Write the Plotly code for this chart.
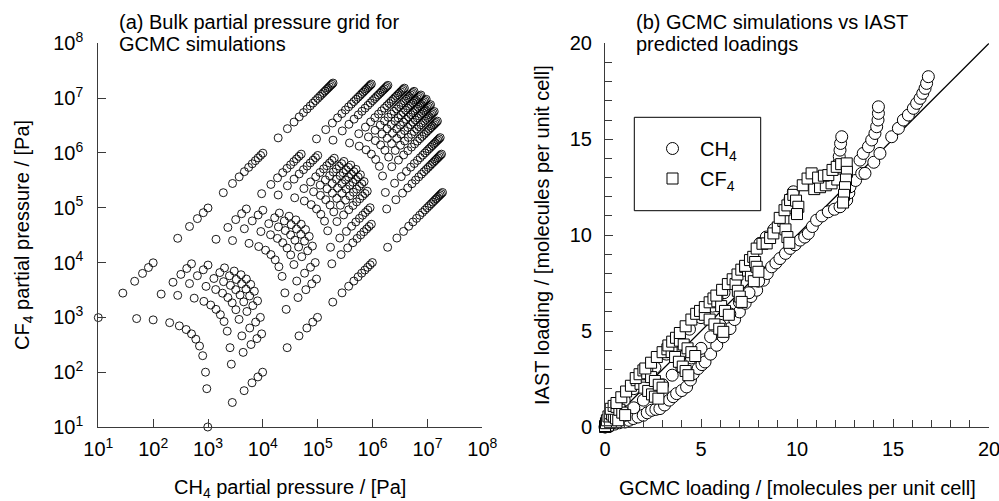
import plotly.graph_objects as go

# ---------------- Panel (a): bulk partial pressure grid ----------------
# total bulk pressures (Pa) read from the grid, and CH4 mole fractions
total_pressure_pa = [
    1.0e3,
    2.8e3, 4.6e3, 6.4e3, 8.2e3, 1.0e4,
    2.8e4, 4.6e4, 6.4e4, 8.2e4, 1.0e5,
    1.9e5, 2.8e5, 3.7e5, 4.6e5, 5.5e5, 6.4e5, 7.3e5, 8.2e5, 9.1e5, 1.0e6,
    1.9e6, 2.8e6, 3.7e6, 4.6e6, 5.5e6, 6.4e6, 7.3e6, 8.2e6, 9.1e6, 1.0e7,
    1.09e7, 1.18e7, 1.27e7, 1.36e7, 1.45e7, 1.54e7, 1.63e7, 1.72e7, 1.81e7, 1.9e7,
]
ch4_mole_fraction = [0.01, 0.05, 0.1, 0.2, 0.3, 0.4, 0.5, 0.6, 0.7, 0.8, 0.9, 0.95, 0.99]

# grid table: partial pressures of each (total pressure, composition) pair
grid_ch4 = [p * f for p in total_pressure_pa for f in ch4_mole_fraction]
grid_cf4 = [p * (1 - f) for p in total_pressure_pa for f in ch4_mole_fraction]

# ---------------- Panel (b): GCMC vs IAST loadings ----------------
ch4_gcmc = [
    # near origin
    0.00, 0.02, 0.04, 0.06, 0.08, 0.10, 0.13, 0.16, 0.20, 0.25, 0.30, 0.36, 0.10, 0.20, 0.30,
    # lower edge chain
    0.50, 0.75, 1.04, 1.25, 1.47, 1.72, 1.99, 2.20, 2.43, 2.65, 2.86, 3.10, 3.35, 3.55,
    3.73, 4.00, 4.25, 4.45, 4.60, 4.85, 5.05, 5.21, 5.50, 5.82, 6.15, 6.51, 6.75, 7.00,
    7.30, 7.60, 7.90, 8.25, 8.45, 8.68, 8.90, 9.11, 9.40, 9.64, 9.90, 10.16, 10.40,
    10.59, 10.80, 11.02, 11.30, 11.63, 11.95, 12.24, 12.59, 12.70, 12.76, 13.05, 13.37,
    # band interior
    1.00, 1.50, 2.00, 2.50, 3.00, 3.50, 4.00, 4.50, 5.00, 5.50, 6.00, 6.50, 7.00, 7.50, 8.00,
    # upper side of band
    0.50, 1.00, 1.50, 2.00, 2.60, 3.20, 3.80, 4.40, 5.00, 5.60, 6.20, 6.80,
    7.40, 8.07, 8.40, 8.80, 9.20, 9.50, 9.64, 9.81,
    # columns above the parity line
    12.10, 12.20, 12.20, 12.24, 12.27, 12.33,
    13.28, 13.45, 13.72, 13.89, 14.06, 14.15, 14.22, 14.24, 14.24,
    13.54, 14.00, 14.32, 14.93, 15.28, 15.54, 15.80, 16.06, 16.23, 16.41,
    16.55, 16.67, 16.75, 16.84,
]
ch4_iast = [
    0.00, 0.01, 0.03, 0.04, 0.06, 0.07, 0.09, 0.11, 0.13, 0.16, 0.19, 0.22, 0.15, 0.25, 0.32,
    0.15, 0.22, 0.26, 0.35, 0.44, 0.52, 0.61, 0.74, 0.87, 0.92, 0.96, 1.15, 1.40, 1.58,
    1.74, 1.90, 2.09, 2.45, 2.78, 3.05, 3.25, 3.39, 3.80, 4.26, 4.70, 5.13, 5.60, 6.00,
    6.45, 6.80, 7.13, 7.65, 8.00, 8.35, 8.55, 8.78, 9.05, 9.31, 9.50, 9.74, 9.90,
    10.09, 10.45, 10.78, 11.00, 11.22, 11.35, 11.48, 11.83, 12.20, 12.52, 12.85, 13.22,
    0.60, 1.00, 1.40, 1.80, 2.20, 2.70, 3.10, 3.60, 4.10, 4.70, 5.30, 5.90, 6.50, 7.00, 7.60,
    0.70, 1.40, 2.00, 2.50, 3.10, 3.80, 4.50, 5.10, 5.70, 6.30, 7.00, 7.60,
    8.30, 9.57, 9.90, 10.30, 10.80, 11.40, 11.90, 12.26,
    13.40, 13.80, 14.10, 14.43, 14.78, 15.13,
    13.91, 14.26, 14.61, 14.96, 15.30, 15.65, 16.00, 16.35, 16.69,
    13.22, 13.80, 14.26, 15.13, 15.57, 16.00, 16.26, 16.61, 16.87, 17.13,
    17.39, 17.65, 17.91, 18.26,
]
cf4_gcmc = [
    # near origin
    0.00, 0.02, 0.04, 0.06, 0.08, 0.10, 0.12, 0.14, 0.16, 0.18, 0.20, 0.05, 0.10, 0.15, 0.25, 0.30,
    # staircases along the band
    0.00, 0.05, 0.10, 0.18, 0.26, 0.36, 0.46, 0.57, 0.69,
    0.30, 0.45, 0.60, 0.75, 0.90, 1.05,
    0.60, 0.85, 1.10, 1.35, 1.65, 1.85, 2.05, 2.25, 2.45, 2.60, 2.78,
    1.60, 1.80, 2.00, 2.20, 2.40, 2.60, 2.80, 3.00,
    2.10, 2.40, 2.70, 3.00, 3.25, 3.47, 3.65, 3.85, 4.05, 4.20, 4.34,
    3.30, 3.50, 3.70, 3.90, 4.10, 4.30, 4.50, 4.70,
    3.90, 4.20, 4.50, 4.75, 4.95, 5.20, 5.45, 5.70, 5.95, 6.16,
    5.20, 5.45, 5.65, 5.85, 6.05, 6.25, 6.45,
    5.80, 6.10, 6.40, 6.65, 6.80, 6.92, 7.02, 7.12,
    6.90, 7.10, 7.30, 7.45, 7.60, 7.75,
    7.30, 7.55, 7.72, 7.82, 7.90, 7.99,
    7.90, 8.20, 8.42, 8.60, 8.77, 9.00, 9.29, 9.40, 9.50, 9.60,
    9.10, 9.35, 9.50, 9.64, 9.81, 9.95, 10.07, 10.00,
    10.90, 11.20, 11.50, 11.80, 12.10,
    10.30, 10.55, 10.76, 11.10, 11.40, 11.63, 11.85, 12.07, 12.30, 12.59,
    12.60, 12.55, 12.50, 12.45, 12.40,
]
cf4_iast = [
    0.00, 0.03, 0.06, 0.09, 0.12, 0.15, 0.10, 0.20, 0.14, 0.25, 0.18, 0.02, 0.05, 0.08, 0.30, 0.22,
    0.05, 0.20, 0.35, 0.55, 0.72, 0.65, 0.55, 0.45, 0.35,
    0.95, 1.10, 1.05, 0.90, 0.75, 0.62,
    1.25, 1.55, 1.85, 2.15, 2.44, 2.25, 2.05, 1.88, 1.70, 1.58, 1.48,
    2.55, 2.75, 2.95, 2.80, 2.60, 2.40, 2.20, 2.05,
    3.05, 3.35, 3.65, 3.90, 4.05, 3.91, 3.65, 3.40, 3.15, 2.92, 2.70,
    4.25, 4.45, 4.65, 4.50, 4.30, 4.10, 3.90, 3.70,
    4.90, 5.25, 5.60, 5.90, 6.05, 5.85, 5.60, 5.35, 5.12, 4.96,
    6.25, 6.50, 6.70, 6.55, 6.30, 6.05, 5.85,
    6.85, 7.15, 7.45, 7.70, 7.45, 7.10, 6.80, 6.52,
    7.95, 8.20, 8.35, 8.15, 7.90, 7.60,
    8.40, 8.70, 8.87, 8.60, 8.35, 8.09,
    9.30, 9.55, 9.57, 9.85, 10.09, 10.40, 10.74, 10.30, 9.90, 9.60,
    10.90, 11.30, 11.55, 11.83, 12.10, 11.80, 11.48, 11.10,
    12.40, 12.50, 12.60, 12.70, 12.90,
    12.60, 12.95, 13.22, 13.00, 13.10, 13.13, 13.40, 13.56, 13.70, 13.74,
    13.30, 12.90, 12.50, 12.10, 11.70,
]
parity_line = [0, 20]

decade_exponents = [1, 2, 3, 4, 5, 6, 7, 8]
tick_vals_a = [10 ** k for k in decade_exponents]
tick_text_a = ["10<sup>%d</sup>" % k for k in decade_exponents]

FONT = "Liberation Sans, Arial, sans-serif"
INK = "#000000"
AXC = "#3a3a3a"

fig = go.Figure()

fig.add_trace(go.Scatter(
    x=grid_ch4, y=grid_cf4, mode="markers", xaxis="x", yaxis="y",
    marker=dict(symbol="circle-open", size=8, color=INK, line=dict(width=0.9, color=INK)),
    showlegend=False, cliponaxis=False, hoverinfo="skip"))

fig.add_trace(go.Scatter(
    x=parity_line, y=parity_line, mode="lines", xaxis="x2", yaxis="y2",
    line=dict(color=INK, width=1.3), showlegend=False, hoverinfo="skip"))

fig.add_trace(go.Scatter(
    x=ch4_gcmc, y=ch4_iast, mode="markers", xaxis="x2", yaxis="y2",
    name="CH<sub>4</sub>", legendgroup="g1",
    marker=dict(symbol="circle", size=12, color="white", line=dict(width=1, color=INK)),
    cliponaxis=False))

fig.add_trace(go.Scatter(
    x=cf4_gcmc, y=cf4_iast, mode="markers", xaxis="x2", yaxis="y2",
    name="CF<sub>4</sub>", legendgroup="g2",
    marker=dict(symbol="square", size=11, color="white", line=dict(width=1, color=INK)),
    cliponaxis=False))

W, H = 999, 501
def px_x(p):
    return p / W
def px_y(p):
    return (H - p) / H

common_axis = dict(showline=True, linecolor=AXC, linewidth=1, ticks="inside",
                   tickcolor=AXC, tickwidth=1, showgrid=False, zeroline=False,
                   automargin=False, mirror=False, ticklabeloverflow="allow",
                   tickfont=dict(size=20, color=INK, family=FONT))

fig.update_layout(
    template="none",
    width=W, height=H, margin=dict(l=0, r=0, t=0, b=0, pad=0), autosize=False,
    paper_bgcolor="white", plot_bgcolor="white",
    font=dict(family=FONT, size=20, color=INK),
    xaxis=dict(type="log", range=[1, 8], domain=[px_x(98.3), px_x(482.3)], anchor="y",
               tickmode="array", tickvals=tick_vals_a, ticktext=tick_text_a,
               ticklen=8, ticklabelstandoff=4, **common_axis),
    yaxis=dict(type="log", range=[1, 8], domain=[px_y(427), px_y(43.3)], anchor="x",
               tickmode="array", tickvals=tick_vals_a, ticktext=tick_text_a,
               ticklen=8, ticklabelstandoff=10, **common_axis),
    xaxis2=dict(range=[0, 20], domain=[px_x(605), px_x(989)], anchor="y2",
                tickmode="linear", tick0=0, dtick=5, ticklen=8, ticklabelstandoff=4,
                minor=dict(dtick=1, ticks="inside", ticklen=7, tickcolor=AXC, tickwidth=1),
                **common_axis),
    yaxis2=dict(range=[0, 20], domain=[px_y(427), px_y(43.3)], anchor="x2",
                tickmode="linear", tick0=0, dtick=5, ticklen=8, ticklabelstandoff=8,
                minor=dict(dtick=1, ticks="inside", ticklen=7, tickcolor=AXC, tickwidth=1),
                **common_axis),
    showlegend=True,
    legend=dict(x=px_x(645), y=px_y(129), xanchor="left", yanchor="top",
                bgcolor="rgba(0,0,0,0)", borderwidth=0, tracegroupgap=1, itemwidth=45,
                font=dict(size=20, family=FONT, color=INK)),
    shapes=[dict(type="rect", xref="paper", yref="paper",
                 x0=px_x(634.3), x1=px_x(760.7), y0=px_y(210.7), y1=px_y(117.3),
                 line=dict(color=INK, width=1), fillcolor="rgba(0,0,0,0)")],
)

ann = []
def text(s, x, y, xa="left", ya="middle", angle=0):
    ann.append(dict(text=s, x=px_x(x), y=px_y(y), xref="paper", yref="paper",
                    xanchor=xa, yanchor=ya, showarrow=False, textangle=angle,
                    font=dict(size=20, family=FONT, color=INK)))

text("(a) Bulk partial pressure grid for", 117, 22)
text("GCMC simulations", 117, 44)
text("(b) GCMC simulations vs IAST", 634, 22)
text("predicted loadings", 634, 44)
text("CH<sub>4</sub> partial pressure / [Pa]", 290, 488, xa="center")
text("CF<sub>4</sub> partial pressure / [Pa]", 24, 235, xa="center", angle=-90)
text("GCMC loading / [molecules per unit cell]", 797, 488, xa="center")
text("IAST loading / [molecules per unit cell]", 542, 235, xa="center", angle=-90)
fig.update_layout(annotations=ann)

fig.write_html("out.html")
